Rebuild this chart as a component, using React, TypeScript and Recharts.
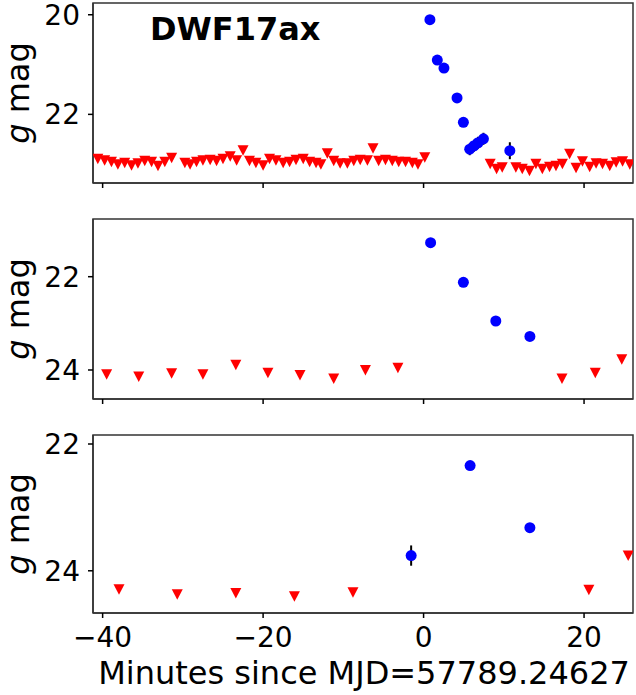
import React from 'react';
import {
  ScatterChart,
  Scatter,
  XAxis,
  YAxis,
  ErrorBar,
  ReferenceArea,
} from 'recharts';

// ── panel 1 (DWF17ax, densely sampled night) ──
const p1LimTime = [
  -40.6, -39.75, -38.9, -38.1, -37.25, -36.4, -35.6, -34.75, -33.9, -33.1, -32.25, -31.4,
  -29.75, -29.1, -28.3, -27.5, -26.6, -25.8, -25.0, -24.1, -23.3, -22.5, -21.7, -20.9,
  -20.0, -19.2, -18.4, -17.5, -16.7, -15.9, -15.0, -14.2, -13.4, -12.8, -12.0, -11.2,
  -10.4, -9.5, -8.7, -7.9, -7.0, -6.3, -5.6, -4.75, -3.9, -3.1, -2.25, -1.4, -0.7, 0.15,
  8.3, 9.1, 9.8, 11.5, 12.3, 13.2, 14.0, 14.8, 15.7, 16.5, 17.3, 18.2, 19.0, 19.8, 20.7,
  21.5, 22.3, 23.2, 24.0, 24.8, 25.7,
];
const p1LimMag = [
  22.89, 22.92, 22.95, 23.0, 22.97, 23.02, 22.98, 22.93, 22.95, 23.03, 22.95, 22.87,
  22.97, 23.0, 22.95, 22.92, 22.91, 22.93, 22.89, 22.84, 22.92, 22.72, 22.93, 22.97,
  23.02, 22.89, 22.92, 22.97, 22.95, 22.91, 22.89, 22.95, 22.97, 23.0, 22.78, 22.93,
  22.98, 22.98, 22.93, 22.91, 22.92, 22.68, 22.93, 22.91, 22.93, 22.95, 22.95, 22.97, 23.0, 22.86,
  22.99, 23.09, 23.06, 23.06, 23.09, 23.13, 22.99, 23.09, 23.05, 23.03, 22.99, 22.79, 23.07, 22.94, 23.05,
  22.98, 22.99, 23.03, 22.96, 22.94, 23.0,
];
const p1DetTime = [0.79, 1.71, 2.54, 4.17, 4.96, 5.75, 6.29, 6.79, 7.46, 10.75];
const p1DetMag = [20.1, 20.91, 21.07, 21.67, 22.16, 22.7, 22.63, 22.57, 22.49, 22.73];
const p1DetErr = [0.02, 0.03, 0.03, 0.04, 0.05, 0.12, 0.12, 0.12, 0.12, 0.17];

// ── panel 2 ──
const p2LimTime = [-39.5, -35.5, -31.4, -27.5, -23.4, -19.4, -15.4, -11.2, -7.25, -3.2, 17.25, 21.4, 24.7];
const p2LimMag = [24.09, 24.14, 24.07, 24.09, 23.89, 24.06, 24.11, 24.18, 24.0, 23.95, 24.18, 24.06, 23.77];
const p2DetTime = [0.875, 4.96, 9.0, 13.25];
const p2DetMag = [21.27, 22.12, 22.95, 23.28];
const p2DetErr = [0.03, 0.04, 0.05, 0.06];

// ── panel 3 ──
const p3LimTime = [-37.96, -30.7, -23.4, -16.1, -8.8, 20.6, 25.5];
const p3LimMag = [24.29, 24.37, 24.35, 24.4, 24.34, 24.3, 23.76];
const p3DetTime = [-1.55, 5.8, 13.25];
const p3DetMag = [23.76, 22.34, 23.32];
const p3DetErr = [0.16, 0.04, 0.07];

const xTicks = [-40, -20, 0, 20];
const xDomain: [number, number] = [-41.2, 26.1];

const FONT = 'DejaVu Sans';

const toLim = (t: number[], m: number[]) => t.map((x, i) => ({ t: x, mag: m[i] }));
const toDet = (t: number[], m: number[], e: number[]) => t.map((x, i) => ({ t: x, mag: m[i], err: e[i] }));

const Triangle = (props: any) => {
  const { cx, cy } = props;
  if (cx == null || cy == null) return null;
  return <path d={`M${cx - 5.5},${cy - 5} L${cx + 5.5},${cy - 5} L${cx},${cy + 5.5} Z`} fill="#ff0000" />;
};

const Dot = (props: any) => {
  const { cx, cy } = props;
  if (cx == null || cy == null) return null;
  return <circle cx={cx} cy={cy} r={5.5} fill="#0000ff" />;
};

interface PanelProps {
  top: number;
  height: number;
  marginTop: number;
  xAxisHeight: number;
  yDomain: [number, number];
  yTicks: number[];
  lim: { t: number; mag: number }[];
  det: { t: number; mag: number; err: number }[];
  showXLabels: boolean;
}

function Panel({ top, height, marginTop, xAxisHeight, yDomain, yTicks, lim, det, showXLabels }: PanelProps) {
  return (
    <div style={{ position: 'absolute', left: 0, top }}>
      <ScatterChart
        width={636}
        height={height}
        margin={{ top: marginTop, right: 3, left: 0, bottom: 0 }}
        style={{ fontFamily: FONT, overflow: 'visible' }}
      >
        <XAxis
          type="number"
          dataKey="t"
          domain={xDomain}
          ticks={xTicks}
          interval={0}
          allowDataOverflow
          height={xAxisHeight}
          axisLine={{ stroke: '#333', strokeWidth: 1.5 }}
          tickLine={{ stroke: '#000', strokeWidth: 1.5 }}
          tickSize={5}
          tickMargin={9}
          tick={{ fontSize: 28, fill: '#000', fontFamily: FONT }}
          tickFormatter={(v: number) => (showXLabels ? String(v).replace('-', '\u2212') : '')}
        />
        <YAxis
          type="number"
          dataKey="mag"
          reversed
          domain={yDomain}
          ticks={yTicks}
          interval={0}
          allowDataOverflow
          width={93}
          axisLine={{ stroke: '#333', strokeWidth: 1.5 }}
          tickLine={{ stroke: '#000', strokeWidth: 1.5 }}
          tickSize={5}
          tickMargin={8}
          tick={{ fontSize: 28, fill: '#000', fontFamily: FONT }}
        />
        <ReferenceArea
          x1={xDomain[0]}
          x2={xDomain[1]}
          y1={yDomain[0]}
          y2={yDomain[1]}
          fill="none"
          stroke="#333"
          strokeWidth={1.5}
          ifOverflow="visible"
        />
        <Scatter data={lim} shape={Triangle} isAnimationActive={false} />
        <Scatter data={det} shape={Dot} isAnimationActive={false}>
          <ErrorBar dataKey="err" direction="y" width={0} stroke="#000" strokeWidth={2} isAnimationActive={false} />
        </Scatter>
      </ScatterChart>
    </div>
  );
}

function YLabel({ cy }: { cy: number }) {
  return (
    <text transform={`translate(29, ${cy}) rotate(-90)`} textAnchor="middle" fontSize={32} fontFamily={FONT} fill="#000">
      <tspan fontStyle="italic">g</tspan> mag
    </text>
  );
}

export default function App() {
  return (
    <div style={{ position: 'absolute', left: 0, top: 0, width: 636, height: 695, background: '#fff' }}>
      <Panel
        top={0}
        height={200}
        marginTop={3}
        xAxisHeight={17}
        yDomain={[19.764, 23.378]}
        yTicks={[20, 22]}
        lim={toLim(p1LimTime, p1LimMag)}
        det={toDet(p1DetTime, p1DetMag, p1DetErr)}
        showXLabels={false}
      />
      <Panel
        top={200}
        height={216}
        marginTop={19}
        xAxisHeight={17}
        yDomain={[20.763, 24.622]}
        yTicks={[22, 24]}
        lim={toLim(p2LimTime, p2LimMag)}
        det={toDet(p2DetTime, p2DetMag, p2DetErr)}
        showXLabels={false}
      />
      <Panel
        top={416}
        height={279}
        marginTop={19}
        xAxisHeight={82}
        yDomain={[21.858, 24.666]}
        yTicks={[22, 24]}
        lim={toLim(p3LimTime, p3LimMag)}
        det={toDet(p3DetTime, p3DetMag, p3DetErr)}
        showXLabels
      />
      <svg width={636} height={695} style={{ position: 'absolute', left: 0, top: 0, pointerEvents: 'none' }}>
        <text x={150} y={40} fontSize={32} fontWeight="bold" fontFamily={FONT} fill="#000">
          DWF17ax
        </text>
        <YLabel cy={93} />
        <YLabel cy={309} />
        <YLabel cy={524} />
        <text x={364} y={684} textAnchor="middle" fontSize={32} fontFamily={FONT} fill="#000">
          Minutes since MJD=57789.24627
        </text>
      </svg>
    </div>
  );
}
